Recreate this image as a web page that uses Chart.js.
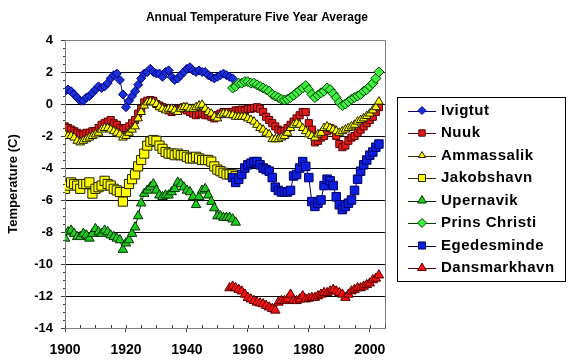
<!DOCTYPE html>
<html>
<head>
<meta charset="utf-8">
<script src="https://cdn.jsdelivr.net/npm/chart.js@4/dist/chart.umd.min.js"></script>
<style>
  body { margin: 0; background: #ffffff; }
  canvas { display: block; }
</style>
</head>
<body>
<canvas id="temp-chart" width="576" height="364"></canvas>
<script>
// station names and the first year of each record
let seriesNames = ['Ivigtut', 'Nuuk', 'Ammassalik', 'Jakobshavn', 'Upernavik', 'Prins Christi', 'Egedesminde', 'Dansmarkhavn'];
let firstYears = [1900, 1900, 1900, 1900, 1900, 1955, 1955, 1954];

// five year averages, one value per year (deg C)
let ivigtut = [0.8, 0.9, 0.8, 0.6, 0.4, 0.2, 0.2, 0.4, 0.5, 0.7,
    0.9, 1.1, 1.0, 1.1, 1.3, 1.6, 1.8, 1.9, 1.5, 0.6,
    -0.2, 0.2, 0.5, 0.8, 1.2, 1.6, 1.9, 2.0, 2.2, 2.0,
    1.9, 1.9, 1.7, 2.0, 2.1, 1.7, 1.5, 1.6, 1.8, 2.0,
    2.2, 2.3, 2.1, 2.0, 2.1, 2.0, 2.0, 1.8, 1.7, 1.6,
    1.7, 1.8, 1.9, 1.8, 1.7, 1.6];
let nuuk = [-1.4, -1.5, -1.6, -1.7, -1.8, -1.9, -1.9, -1.8, -1.8, -1.7,
    -1.7, -1.5, -1.3, -1.2, -1.1, -1.0, -1.2, -1.3, -1.5, -1.6,
    -1.5, -1.4, -1.2, -1.0, -0.6, -0.3, 0.1, 0.2, 0.25, 0.2,
    0.0, -0.1, -0.2, -0.3, -0.4, -0.5, -0.4, -0.3, -0.3, -0.2,
    -0.4, -0.5, -0.6, -0.7, -0.6, -0.6, -0.7, -0.7, -0.8, -0.9,
    -0.7, -0.6, -0.5, -0.5, -0.5, -0.5, -0.4, -0.4, -0.35, -0.4,
    -0.3, -0.3, -0.25, -0.2, -0.3, -0.5, -0.8, -1.0, -1.2, -1.4,
    -1.6, -1.7, -1.7, -1.5, -1.3, -1.1, -0.9, -0.7, -0.5, -0.5,
    -1.2, -1.6, -2.4, -2.3, -2.1, -2.0, -1.7, -1.5, -1.6, -2.0,
    -2.5, -2.7, -2.6, -2.3, -2.1, -2.0, -1.8, -1.6, -1.4, -1.2,
    -1.0, -0.8, -0.5, -0.2];
let ammassalik = [-1.9, -2.0, -2.0, -2.1, -2.3, -2.4, -2.3, -2.2, -2.1, -2.0,
    -1.9, -1.8, -1.6, -1.5, -1.5, -1.6, -1.7, -1.8, -1.9, -2.1,
    -2.0, -1.8, -1.6, -1.4, -0.9, -0.5, -0.1, 0.1, 0.15, 0.1,
    0.0, -0.2, -0.3, -0.4, -0.3, -0.3, -0.4, -0.5, -0.3, -0.2,
    -0.2, -0.3, -0.3, -0.2, -0.1, -0.05, -0.3, -0.5, -0.6, -0.8,
    -0.9, -0.7, -0.6, -0.6, -0.7, -0.7, -0.8, -0.8, -0.8, -0.8,
    -0.9, -1.0, -1.1, -1.3, -1.5, -1.6, -1.8, -1.9, -2.2, -2.2,
    -2.2, -2.1, -2.0, -1.8, -1.5, -1.3, -1.2, -1.3, -1.5, -1.7,
    -1.9, -2.0, -2.1, -1.9, -1.8, -1.5, -1.4, -1.5, -1.6, -1.7,
    -1.8, -1.7, -1.6, -1.5, -1.4, -1.3, -1.1, -1.0, -0.9, -0.75,
    -0.6, -0.4, -0.2, 0.15];
let jakobshavn = [-5.3, -5.1, -4.9, -5.0, -5.1, -5.3, -5.0, -5.0, -4.9, -5.6,
    -5.3, -5.2, -5.1, -4.8, -5.0, -5.1, -5.3, -5.4, -5.5, -6.1,
    -5.5, -5.0, -4.7, -4.4, -3.9, -3.5, -3.1, -2.6, -2.35, -2.25,
    -2.3, -2.6, -2.8, -3.0, -3.1, -3.1, -3.2, -3.1, -3.2, -3.2,
    -3.3, -3.4, -3.4, -3.3, -3.4, -3.5, -3.5, -3.5, -3.6, -3.9,
    -4.1, -4.2, -4.3, -4.4, -4.4, -4.4, -4.5];
let upernavik = [-8.4, -8.0, -7.9, -8.1, -8.3, -8.3, -8.1, -8.2, -8.4, -8.1,
    -7.8, -8.0, -8.1, -7.9, -8.0, -8.2, -8.3, -8.4, -8.5, -9.1,
    -8.7, -8.5, -8.1, -7.7, -7.0, -6.2, -5.6, -5.4, -5.2, -5.0,
    -5.4, -5.7, -5.8, -5.7, -5.7, -5.5, -5.3, -4.9, -5.0, -5.2,
    -5.4, -5.5, -5.8, -6.3, -5.8, -5.4, -5.3, -5.7, -6.1, -6.5,
    -7.0, -7.0, -7.1, -7.1, -7.1, -7.2, -7.4];
let prinsChristi = [1.0, 1.1, 1.3, 1.3, 1.4, 1.4, 1.3, 1.3, 1.2, 1.1,
    1.0, 0.9, 0.8, 0.6, 0.5, 0.4, 0.3, 0.25, 0.3, 0.4,
    0.55, 0.7, 0.85, 1.0, 1.15, 0.9, 0.6, 0.4, 0.55, 0.7,
    0.8, 1.0, 0.9, 0.65, 0.4, 0.1, -0.1, 0.0, 0.15, 0.3,
    0.4, 0.5, 0.6, 0.8, 0.9, 1.1, 1.3, 1.6, 2.0];
let egedesminde = [-4.6, -4.9, -4.7, -4.4, -4.0, -3.8, -3.7, -3.6, -3.6, -3.8,
    -4.0, -4.1, -4.2, -4.6, -5.2, -5.4, -5.5, -5.5, -5.5, -5.4,
    -4.5, -4.4, -4.0, -3.6, -3.9, -4.6, -6.1, -6.4, -6.2, -6.0,
    -5.1, -4.7, -4.8, -5.1, -5.8, -6.3, -6.6, -6.4, -6.2, -6.0,
    -5.4, -4.7, -4.2, -3.8, -3.5, -3.2, -3.0, -2.7, -2.5];
let dansmarkhavn = [-11.5, -11.4, -11.5, -11.6, -11.7, -11.9, -12.1, -12.2, -12.3, -12.4,
    -12.45, -12.5, -12.6, -12.7, -12.8, -12.9, -12.4, -12.3, -12.3, -12.2,
    -11.9, -12.3, -12.3, -12.2, -12.0, -12.2, -12.15, -12.1, -12.1, -12.0,
    -11.9, -11.8, -11.8, -11.7, -11.6, -11.7, -11.8, -11.9, -12.1, -11.9,
    -11.7, -11.6, -11.5, -11.5, -11.4, -11.3, -11.2, -11.0, -10.9, -10.7];

let allValues = [ivigtut, nuuk, ammassalik, jakobshavn, upernavik, prinsChristi, egedesminde, dansmarkhavn];

let xTickLabels = [1900, 1920, 1940, 1960, 1980, 2000];
let yTickLabels = [4, 2, 0, -2, -4, -6, -8, -10, -12, -14];

// marker look for each station (Excel style)
let markerStyles = ['rectRot', 'rect', 'triangle', 'rect', 'triangle', 'rectRot', 'rect', 'triangle'];
let markerSizes = [4.5, 5, 5, 6.5, 5.5, 5, 6, 5.5];
let legendSizes = [4, 4.5, 4, 5, 5, 4.5, 5, 5];
let fillColors = ['#1c30d8', '#e41c1c', '#ffff00', '#ffff00', '#1ecc1e', '#40f040', '#0c1ee0', '#ff1010'];
let edgeColors = ['#000080', '#500000', '#202000', '#202000', '#003000', '#004000', '#000060', '#500000'];
let lineColors = ['#000080', '#600000', '#303000', '#303000', '#003000', '#004000', '#000060', '#600000'];

let datasets = seriesNames.map(function(name, i) {
    return {
        label: name,
        data: allValues[i].map(function(v, j) { return { x: firstYears[i] + j, y: v }; }),
        showLine: true,
        borderColor: lineColors[i],
        borderWidth: 1,
        backgroundColor: fillColors[i],
        pointStyle: markerStyles[i],
        pointRadius: markerSizes[i],
        pointBackgroundColor: fillColors[i],
        pointBorderColor: edgeColors[i],
        pointBorderWidth: 1,
        order: seriesNames.length - i
    };
});

let fontFamily = "'Liberation Sans', Arial, sans-serif";

// title, plot border, minor ticks and the boxed legend
let excelBits = {
    id: 'excelBits',
    afterDraw: function(chart) {
        let ctx = chart.ctx;
        let area = chart.chartArea;
        let xs = chart.scales.x;
        let ys = chart.scales.y;
        ctx.save();

        ctx.strokeStyle = '#808080';
        ctx.lineWidth = 1;
        ctx.beginPath();
        ctx.moveTo(area.left, area.top + 0.5);
        ctx.lineTo(area.right + 0.5, area.top + 0.5);
        ctx.lineTo(area.right + 0.5, area.bottom);
        ctx.stroke();

        // minor ticks
        ctx.strokeStyle = '#404040';
        ctx.beginPath();
        for (let v = -14; v <= 4; v += 0.5) {
            let py = Math.round(ys.getPixelForValue(v)) + 0.5;
            ctx.moveTo(area.left - 2, py);
            ctx.lineTo(area.left, py);
        }
        for (let yr = 1900; yr <= 2005; yr += 5) {
            let px = Math.round(xs.getPixelForValue(yr)) + 0.5;
            ctx.moveTo(px, area.bottom);
            ctx.lineTo(px, area.bottom - 3);
        }
        ctx.stroke();

        ctx.fillStyle = '#000000';
        ctx.font = 'bold 12px ' + fontFamily;
        ctx.textAlign = 'center';
        ctx.textBaseline = 'middle';
        ctx.fillText('Annual Temperature Five Year Average', 257, 18);

        // legend
        let boxL = 397, boxT = 97, boxW = 168, boxH = 184;
        ctx.fillStyle = '#ffffff';
        ctx.fillRect(boxL, boxT, boxW, boxH);
        ctx.strokeStyle = '#000000';
        ctx.strokeRect(boxL + 0.5, boxT + 0.5, boxW, boxH);

        chart.data.datasets.forEach(function(ds, i) {
            let cy = 110.5 + i * 22.5;
            ctx.strokeStyle = lineColors[i];
            ctx.lineWidth = 1;
            ctx.beginPath();
            ctx.moveTo(408, Math.round(cy) + 0.5);
            ctx.lineTo(436, Math.round(cy) + 0.5);
            ctx.stroke();
            ctx.fillStyle = fillColors[i];
            ctx.strokeStyle = edgeColors[i];
            Chart.helpers.drawPoint(ctx, {
                pointStyle: markerStyles[i],
                radius: legendSizes[i],
                rotation: 0,
                borderWidth: 1
            }, 422, cy);
            ctx.fillStyle = '#000000';
            ctx.font = 'bold 15px ' + fontFamily;
            ctx.letterSpacing = '0.5px';
            ctx.textAlign = 'left';
            ctx.textBaseline = 'middle';
            ctx.fillText(ds.label, 441, cy);
            ctx.letterSpacing = '0px';
        });
        ctx.restore();
    }
};

let chartContext = document.getElementById('temp-chart').getContext('2d');

let tempChart = new Chart(chartContext, {
    type: 'scatter',
    data: { datasets: datasets },
    options: {
        responsive: false,
        animation: false,
        devicePixelRatio: 1,
        layout: { padding: { top: 40, right: 191, left: 0, bottom: 0 } },
        plugins: {
            legend: { display: false },
            title: { display: false },
            tooltip: { enabled: false }
        },
        scales: {
            x: {
                type: 'linear',
                min: 1900,
                max: 2005,
                afterFit: function(scale) { scale.height = 36; },
                afterBuildTicks: function(scale) {
                    scale.ticks = xTickLabels.map(function(v) { return { value: v }; });
                },
                ticks: {
                    color: '#000000',
                    padding: 10,
                    font: { family: fontFamily, size: 14, weight: 'bold' },
                    callback: function(v) { return String(v); }
                },
                grid: {
                    drawOnChartArea: false,
                    drawTicks: true,
                    tickLength: 4,
                    color: '#404040'
                },
                border: { color: '#808080', width: 1 }
            },
            y: {
                type: 'linear',
                min: -14,
                max: 4,
                afterFit: function(scale) { scale.width = 65; },
                afterBuildTicks: function(scale) {
                    scale.ticks = yTickLabels.map(function(v) { return { value: v }; });
                },
                ticks: {
                    color: '#000000',
                    padding: 8,
                    font: { family: fontFamily, size: 13, weight: 'bold' },
                    callback: function(v) { return String(v); }
                },
                grid: {
                    color: function(c) { return c.tick && c.tick.value === 4 ? '#808080' : '#000000'; },
                    lineWidth: 1,
                    tickLength: 4,
                    tickColor: '#404040'
                },
                border: { color: '#808080', width: 1 },
                title: {
                    display: true,
                    text: 'Temperature (C)',
                    color: '#000000',
                    padding: 6,
                    font: { family: fontFamily, size: 13, weight: 'bold' }
                }
            }
        }
    },
    plugins: [excelBits]
});
</script>
</body>
</html>
